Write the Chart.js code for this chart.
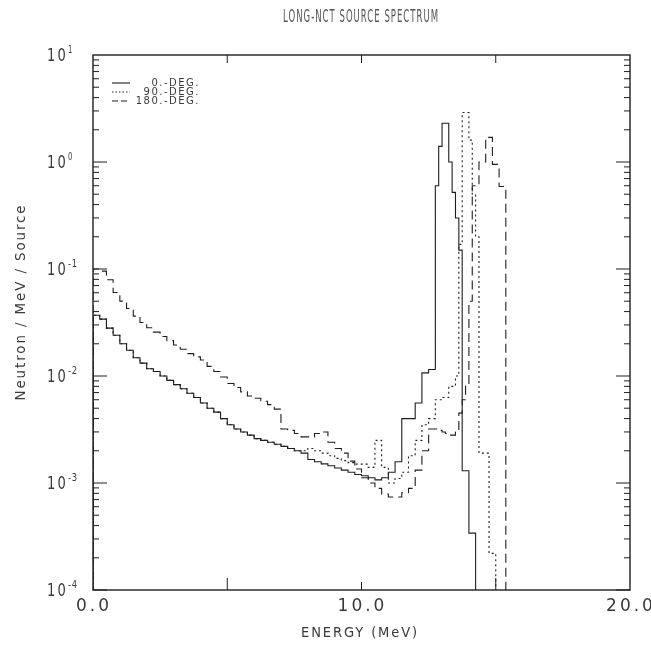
<!DOCTYPE html>
<html>
<head>
<meta charset="utf-8">
<script src="https://cdn.jsdelivr.net/npm/chart.js@4.4.1/dist/chart.umd.min.js"></script>
<style>
  html, body { margin: 0; padding: 0; background: #fff; }
  #wrap { width: 651px; height: 646px; }
</style>
</head>
<body>
<div id="wrap"><canvas id="spectrum" width="651" height="646"></canvas></div>
<script>
// Energy bin edges (MeV): 0.25 MeV bins up to 12.75, 0.125 MeV bins through the D-T peak.
// Each flux value holds over [edge i, edge i+1).
const energyEdges = [
  0.00, 0.25, 0.50, 0.75, 1.00, 1.25, 1.50, 1.75, 2.00, 2.25, 2.50, 2.75,
  3.00, 3.25, 3.50, 3.75, 4.00, 4.25, 4.50, 4.75, 5.00, 5.25, 5.50, 5.75,
  6.00, 6.25, 6.50, 6.75, 7.00, 7.25, 7.50, 7.75, 8.00, 8.25, 8.50, 8.75,
  9.00, 9.25, 9.50, 9.75, 10.00, 10.25, 10.50, 10.75, 11.00, 11.25, 11.50, 11.75,
  12.00, 12.25, 12.50, 12.75,
  12.875, 13.000, 13.125, 13.250, 13.375, 13.500, 13.625, 13.750,
  13.875, 14.000, 14.125, 14.250, 14.375, 14.500, 14.625, 14.750,
  14.875, 15.000, 15.125, 15.250, 15.375, 15.500
];

// Neutron / MeV / Source for each bin (a series ends where its last bin ends)
const flux0deg = [
  0.037, 0.034, 0.028, 0.024, 0.020, 0.0174, 0.0148, 0.0132, 0.0117, 0.0110, 0.0100, 0.0091,
  0.0083, 0.0076, 0.0069, 0.0063, 0.0056, 0.0050, 0.0046, 0.0040, 0.0035, 0.0032, 0.0030, 0.0028,
  0.0026, 0.0025, 0.0024, 0.0023, 0.0022, 0.0021, 0.0020, 0.0019, 0.00166, 0.00158, 0.00151, 0.00145,
  0.00138, 0.00132, 0.00126, 0.00120, 0.00117, 0.00112, 0.00107, 0.00112, 0.00126, 0.00158, 0.0040, 0.0040,
  0.0056, 0.0107, 0.0115,
  0.60, 1.4, 2.3, 2.3, 1.0, 0.52, 0.30, 0.15,
  0.0013, 0.0013, 0.00034, 0.00034
];
const flux90deg = [
  0.037, 0.034, 0.028, 0.024, 0.020, 0.0174, 0.0148, 0.0132, 0.0117, 0.0110, 0.0100, 0.0091,
  0.0083, 0.0076, 0.0069, 0.0063, 0.0056, 0.0050, 0.0046, 0.0040, 0.0035, 0.0032, 0.0030, 0.0028,
  0.0026, 0.0025, 0.0024, 0.0023, 0.0022, 0.0021, 0.0020, 0.0020, 0.0021, 0.0020, 0.0019, 0.0018,
  0.00170, 0.00162, 0.00155, 0.00150, 0.00150, 0.00140, 0.0025, 0.0014, 0.00100, 0.00110, 0.00126, 0.0018,
  0.0025, 0.0035, 0.0040,
  0.0060, 0.0060, 0.0063, 0.0063, 0.0080, 0.0080, 0.010, 0.17,
  2.9, 2.9, 1.6, 0.50, 0.20, 0.0019, 0.0019, 0.0019,
  0.00022, 0.00022
];
const flux180deg = [
  0.100, 0.0955, 0.0794, 0.0603, 0.0501, 0.0427, 0.0363, 0.0316, 0.0282, 0.0257, 0.0234, 0.0214,
  0.0195, 0.0178, 0.0162, 0.0151, 0.0141, 0.0123, 0.0110, 0.0098, 0.0085, 0.0078, 0.0071, 0.0065,
  0.0062, 0.0058, 0.0054, 0.0049, 0.0032, 0.0031, 0.0029, 0.0027, 0.0027, 0.0029, 0.0030, 0.0024,
  0.0021, 0.0019, 0.0016, 0.00135, 0.00112, 0.00100, 0.00089, 0.00079, 0.00074, 0.00074, 0.00081, 0.00089,
  0.00132, 0.0020, 0.0032,
  0.0032, 0.0031, 0.0030, 0.0029, 0.0028, 0.0028, 0.0030, 0.0045,
  0.0060, 0.0080, 0.050, 0.60, 0.60, 1.0, 1.0, 1.7,
  1.7, 0.95, 0.95, 0.59, 0.59
];

const seriesNames = ['0.-DEG.', '90.-DEG.', '180.-DEG.'];
const decadeExponents = [1, 0, -1, -2, -3, -4];
const energyTickValues = [0, 10, 20];
const energyTickText = ['0.0', '10.0', '20.0'];
const chartTitle = 'LONG-NCT SOURCE SPECTRUM';
const xTitle = 'ENERGY (MeV)';
const yTitle = 'Neutron / MeV / Source';

const FLOOR = 1e-6; // below the axis minimum, so lines run off the bottom

function stepPoints(values) {
  const pts = [{ x: energyEdges[0], y: FLOOR }];
  values.forEach((v, i) => pts.push({ x: energyEdges[i], y: v }));
  pts.push({ x: energyEdges[values.length], y: FLOOR });
  return pts;
}

const ink = '#1e1e1e';
const textInk = '#3a3a3a';
const dashStyles = [[], [2, 3], [9, 5]];
const legendDash = [[], [1.5, 2], [6, 3]];

// draw text squeezed/stretched to a given width
function fitText(ctx, text, x, y, width, align) {
  const w = ctx.measureText(text).width;
  ctx.save();
  ctx.translate(x, y);
  ctx.scale(width / w, 1);
  ctx.textAlign = align;
  ctx.fillText(text, 0, 0);
  ctx.restore();
}

const axesAndText = {
  id: 'axesAndText',
  afterDraw(chart) {
    const ctx = chart.ctx;
    const { left, right, top, bottom } = chart.chartArea;
    const xs = chart.scales.x, ys = chart.scales.y;
    ctx.save();
    ctx.strokeStyle = ink;
    ctx.lineWidth = 1.4;
    ctx.strokeRect(left, top, right - left, bottom - top);

    // log ticks on left and right edges
    ctx.lineWidth = 1;
    for (let e = -4; e < 1; e++) {
      for (let m = 1; m <= 9; m++) {
        const y = ys.getPixelForValue(m * Math.pow(10, e));
        const len = m === 1 ? 14 : 6;
        ctx.beginPath();
        ctx.moveTo(left, y); ctx.lineTo(left + len, y);
        ctx.moveTo(right, y); ctx.lineTo(right - len, y);
        ctx.stroke();
      }
    }
    // energy ticks on bottom and top
    [5, 10, 15].forEach(v => {
      const x = xs.getPixelForValue(v);
      const len = v === 10 ? 8 : 12;
      ctx.beginPath();
      ctx.moveTo(x, bottom); ctx.lineTo(x, bottom - len);
      ctx.moveTo(x, top); ctx.lineTo(x, top + 8);
      ctx.stroke();
    });

    ctx.fillStyle = textInk;
    ctx.textBaseline = 'middle';
    // decade labels
    decadeExponents.forEach(e => {
      const y = ys.getPixelForValue(Math.pow(10, e));
      ctx.font = '18px "DejaVu Sans"';
      ctx.letterSpacing = '3px';
      fitText(ctx, '10', left - 46, y + 1, 21, 'left');
      ctx.font = '10px "DejaVu Sans"';
      ctx.letterSpacing = '1px';
      const expText = e === 0 ? '0' : (e > 0 ? String(e) : '-' + String(-e));
      fitText(ctx, expText, left - 25, y - 5, e < 0 ? 10 : 5, 'left');
    });
    // energy labels
    ctx.font = '17px "DejaVu Sans"';
    ctx.letterSpacing = '3px';
    ctx.textAlign = 'center';
    energyTickValues.forEach((v, i) => {
      ctx.fillText(energyTickText[i], xs.getPixelForValue(v) + 1, bottom + 17);
    });
    // axis titles
    ctx.font = '14px "DejaVu Sans"';
    ctx.letterSpacing = '2px';
    fitText(ctx, xTitle, 360, bottom + 43, 118, 'center');
    ctx.save();
    ctx.translate(21, 302);
    ctx.rotate(-Math.PI / 2);
    fitText(ctx, yTitle, 0, 0, 197, 'center');
    ctx.restore();
    // title
    ctx.font = '17px "DejaVu Sans"';
    ctx.letterSpacing = '2px';
    ctx.fillStyle = '#555';
    fitText(ctx, chartTitle, 361, 18, 156, 'center');

    // legend
    ctx.fillStyle = textInk;
    ctx.font = '10px "DejaVu Sans"';
    ctx.letterSpacing = '1.5px';
    ctx.textAlign = 'right';
    ctx.lineWidth = 1.1;
    seriesNames.forEach((name, i) => {
      const y = 83 + i * 9;
      ctx.beginPath();
      ctx.setLineDash(legendDash[i]);
      ctx.moveTo(112, y); ctx.lineTo(130, y);
      ctx.stroke();
      ctx.setLineDash([]);
      ctx.fillText(name, 200, y);
    });
    ctx.restore();
  }
};

new Chart(document.getElementById('spectrum'), {
  type: 'line',
  data: {
    datasets: [flux0deg, flux90deg, flux180deg].map((vals, i) => ({
      label: seriesNames[i],
      data: stepPoints(vals),
      stepped: 'before',
      borderColor: ink,
      borderWidth: 1.1,
      borderDash: dashStyles[i],
      pointRadius: 0,
      fill: false
    }))
  },
  options: {
    responsive: false,
    animation: false,
    layout: { padding: { left: 93, right: 21, top: 55, bottom: 56 } },
    plugins: { legend: { display: false }, tooltip: { enabled: false } },
    scales: {
      x: { type: 'linear', min: 0, max: 20, display: false },
      y: { type: 'logarithmic', min: 1e-4, max: 10, display: false }
    }
  },
  plugins: [axesAndText]
});
</script>
</body>
</html>
